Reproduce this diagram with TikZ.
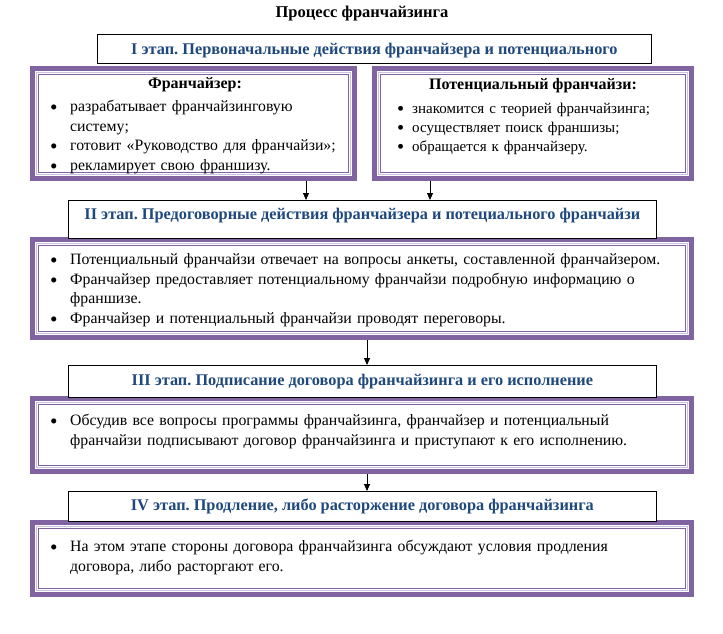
\documentclass[tikz,border=0pt]{standalone}
\usepackage{fontspec}
\setmainfont{Liberation Serif}
\usetikzlibrary{arrows.meta,positioning}
\definecolor{frpurple}{RGB}{128,100,162}
\definecolor{frlilac}{RGB}{204,193,218}
\definecolor{stageblue}{RGB}{31,73,125}
\frenchspacing
\newcommand{\bul}[2][20pt]{\par\hangindent=#1\hangafter=1\noindent
  \makebox[#1][l]{\raisebox{-0.4ex}{\scalebox{1.35}{\textbullet}}}#2\par}
\tikzset{
  pframe/.style={rectangle, draw=frpurple, line width=5pt, fill=white,
                 anchor=north west, inner sep=0pt,
                 path picture={
                   \draw[frlilac, line width=1pt]
                     ([shift={(4pt,-4pt)}]path picture bounding box.north west) rectangle
                     ([shift={(-4pt,4pt)}]path picture bounding box.south east);
                   \draw[frpurple, line width=0.8pt]
                     ([shift={(6pt,-6pt)}]path picture bounding box.north west) rectangle
                     ([shift={(-6pt,6pt)}]path picture bounding box.south east);
                 }},
  stagehdr/.style={rectangle, draw=black, line width=0.8pt, fill=white,
                   anchor=north west, inner sep=0pt, text=stageblue,
                   font=\bfseries\fontsize{16.3}{19}\selectfont},
  colhead/.style={font=\bfseries\fontsize{16}{19}\selectfont, inner sep=0pt},
  bodytxt/.style={anchor=north west, inner sep=0pt, align=left, text width=#1,
                  font=\fontsize{15.8}{19.5}\selectfont},
  arr/.style={-{Triangle[length=7pt,width=6pt]}, line width=0.8pt},
}

\begin{document}
\begin{tikzpicture}[x=1pt,y=-1pt]
  \useasboundingbox (0,0) rectangle (723,633);
  \node[font=\bfseries\fontsize{16.5}{19}\selectfont] (title) at (362,14) {Процесс франчайзинга};

  % stage I
  \node[pframe, minimum width=322, minimum height=110] (f1) at (30,66) {};
  \node[pframe, minimum width=317, minimum height=110] (f2) at (372,66) {};
  \node[stagehdr, minimum width=554, minimum height=29, text height=14pt, text depth=3.5pt] (h1) at (97,34)
    {I этап. Первоначальные действия франчайзера и потенциального};
  \node[colhead] (c1) at (195,85) {Франчайзер:};
  \node[colhead] (c2) at (533,86) {Потенциальный франчайзи:};
  \node[bodytxt=300pt] (l1) at (50,92)
    {\bul{разрабатывает франчайзинговую\newline системy;}
     \bul{готовит «Руководство для франчайзи»;}
     \bul{рекламирует свою франшизу.}};
  \node[bodytxt=300pt, font=\fontsize{15}{19}\selectfont] (l2) at (397,94)
    {\bul[15pt]{знакомится с теорией франчайзинга;}
     \bul[15pt]{осуществляет поиск франшизы;}
     \bul[15pt]{обращается к франчайзеру.}};

  % stage II
  \node[pframe, minimum width=659, minimum height=98] (f3) at (30,237) {};
  \node[stagehdr, minimum width=588, minimum height=38, text height=10pt, text depth=10.5pt] (h2) at (68,200)
    {II этап. Предоговорные действия франчайзера и потециального франчайзи};
  \node[bodytxt=640pt] (l3) at (50,245)
    {\bul{Потенциальный франчайзи отвечает на вопросы анкеты, составленной франчайзером.}
     \bul{Франчайзер предоставляет потенциальному франчайзи подробную информацию о\newline франшизе.}
     \bul{Франчайзер и потенциальный франчайзи проводят переговоры.}};

  % stage III
  \node[pframe, minimum width=659, minimum height=73] (f4) at (30,396) {};
  \node[stagehdr, minimum width=588, minimum height=32, text height=12pt, text depth=3.5pt] (h3) at (68,365)
    {III этап. Подписание договора франчайзинга и его исполнение};
  \node[bodytxt=640pt] (l4) at (50,406)
    {\bul{Обсудив все вопросы программы франчайзинга, франчайзер и потенциальный\newline
     франчайзи подписывают договор франчайзинга и приступают к его исполнению.}};

  % stage IV
  \node[pframe, minimum width=659, minimum height=72] (f5) at (30,520) {};
  \node[stagehdr, minimum width=588, minimum height=30, text height=12pt, text depth=3.5pt] (h4) at (68,491)
    {IV этап. Продление, либо расторжение договора франчайзинга};
  \node[bodytxt=640pt] (l5) at (50,532)
    {\bul{На этом этапе стороны договора франчайзинга обсуждают условия продления\newline
     договора, либо расторгают его.}};

  % arrows
  \coordinate (a1) at (306,0);
  \coordinate (a2) at (430,0);
  \coordinate (a3) at (367,0);
  \draw[arr] (f1.south -| a1) -- (h2.north -| a1);
  \draw[arr] (f2.south -| a2) -- (h2.north -| a2);
  \draw[arr] (f3.south -| a3) -- (h3.north -| a3);
  \draw[arr] (f4.south -| a3) -- (h4.north -| a3);
\end{tikzpicture}
\end{document}
